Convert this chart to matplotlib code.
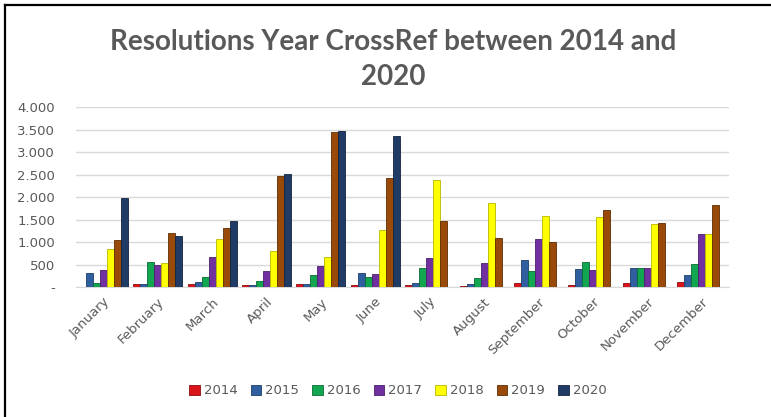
import numpy as np
import matplotlib
matplotlib.use("Agg")
import matplotlib.pyplot as plt
from matplotlib.lines import Line2D
from matplotlib.patches import Patch
from matplotlib.ticker import FuncFormatter

months = ["January", "February", "March", "April", "May", "June",
          "July", "August", "September", "October", "November", "December"]
years = ["2014", "2015", "2016", "2017", "2018", "2019", "2020"]

# values, one list per year
y2014 = [0, 60, 60, 38, 75, 38, 38, 30, 89, 52, 89, 119]
y2015 = [311, 60, 111, 53, 75, 318, 89, 60, 607, 393, 422, 260]
y2016 = [97, 556, 231, 127, 260, 229, 422, 208, 363, 556, 422, 520]
y2017 = [386, 490, 676, 356, 460, 282, 644, 541, 1067, 371, 432, 1171]
y2018 = [838, 530, 1076, 793, 667, 1274, 2370, 1874, 1584, 1547, 1393, 1171]
y2019 = [1037, 1200, 1304, 2474, 3440, 2415, 1474, 1097, 993, 1720, 1431, 1822]
y2020 = [1986, 1142, 1475, 2502, 3473, 3348, 0, 0, 0, 0, 0, 0]

series = [y2014, y2015, y2016, y2017, y2018, y2019, y2020]
colors = ["#D9141B", "#2F5F9E", "#12A650", "#7030A0", "#FFFF00", "#9A4A08", "#1F3B66"]
edges = ["#8E0B0F", "#1D3E6A", "#0A6B33", "#4A1F6B", "#B8B800", "#5E2D04", "#12243F"]

fig = plt.figure(figsize=(7.71, 4.17), dpi=100)
ax = fig.add_axes([76 / 771, 1 - 287 / 417, (729 - 76) / 771, (287 - 107) / 417])

x = np.arange(len(months))
n = len(years)
bar_w = 0.9 / n
for i, (vals, c, ec) in enumerate(zip(series, colors, edges)):
    ax.bar(x - 0.45 + bar_w * (i + 0.5), vals, width=bar_w, color=c,
           edgecolor=ec, linewidth=0.6, label=years[i], zorder=3)

ax.set_xlim(-0.5, len(months) - 0.5)
ax.set_ylim(0, 4000)
ax.set_yticks(np.arange(0, 4001, 500))
ax.yaxis.set_major_formatter(FuncFormatter(
    lambda v, p: "-" if v == 0 else f"{int(v):,}".replace(",", ".")))
ax.grid(axis="y", color="#D9D9D9", linewidth=1, zorder=0)
for s in ["top", "right", "left"]:
    ax.spines[s].set_visible(False)
ax.spines["bottom"].set_color("#D9D9D9")
ax.tick_params(axis="both", length=0, labelsize=9.5, colors="#595959")
ax.tick_params(axis="y", pad=15)
ax.set_xticks(x)
ax.set_xticklabels(months, rotation=45, ha="right", rotation_mode="anchor")
ax.tick_params(axis="x", pad=6)

fig.text(0.51, 1 - 42 / 417, "Resolutions Year CrossRef between 2014 and",
         ha="center", va="center", fontsize=20, fontweight="bold",
         color="#595959", family="Lato")
fig.text(0.51, 1 - 77 / 417, "2020", ha="center", va="center", fontsize=20,
         fontweight="bold", color="#595959", family="Lato")

handles = [Patch(facecolor=c, edgecolor=ec, linewidth=0.6) for c, ec in zip(colors, edges)]
fig.legend(handles, years, loc="center", bbox_to_anchor=(398 / 771, 1 - 391 / 417),
           ncol=7, frameon=False, fontsize=9.5, handlelength=0.8, handleheight=0.8,
           handletextpad=0.3, columnspacing=1.0, labelcolor="#595959")

# black frame on the left and top edges
fig.add_artist(Line2D([5 / 771, 5 / 771], [0, 1 - 5 / 417], color="black", linewidth=1.6))
fig.add_artist(Line2D([5 / 771, 1], [1 - 5 / 417, 1 - 5 / 417], color="black", linewidth=1.6))

fig.savefig("out.png", dpi=100)
